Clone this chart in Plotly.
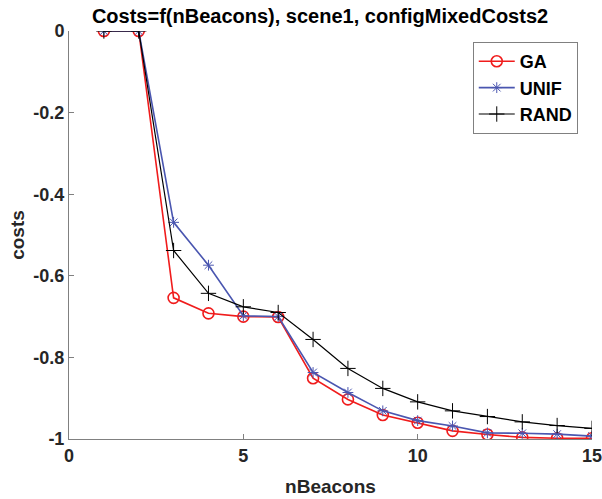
import plotly.graph_objects as go

# valeurs
n_beacons = [1, 2, 3, 4, 5, 6, 7, 8, 9, 10, 11, 12, 13, 14, 15]
costs_ga = [0, 0, -0.654, -0.692, -0.700, -0.701, -0.851, -0.903, -0.941, -0.960, -0.980, -0.989, -0.996, -0.998, -0.998]
costs_unif = [0, 0, -0.469, -0.574, -0.698, -0.700, -0.837, -0.886, -0.931, -0.955, -0.968, -0.985, -0.986, -0.988, -0.993]
costs_rand = [0, 0, -0.538, -0.643, -0.676, -0.690, -0.756, -0.827, -0.876, -0.909, -0.931, -0.945, -0.958, -0.967, -0.974]

x_ticks = [0, 5, 10, 15]
y_ticks = [0, -0.2, -0.4, -0.6, -0.8, -1]
y_tick_labels = ["0", "-0.2", "-0.4", "-0.6", "-0.8", "-1"]

font = dict(family="Arial, Liberation Sans, sans-serif", color="#262626", size=18, weight="bold")

fig = go.Figure()
fig.add_trace(go.Scatter(x=n_beacons, y=costs_ga, name="GA", mode="lines+markers",
                         line=dict(color="#f01c1c", width=1.6),
                         marker=dict(symbol="circle-open", size=11, color="#f01c1c", line=dict(width=1.6))))
fig.add_trace(go.Scatter(x=n_beacons, y=costs_unif, name="UNIF", mode="lines+markers",
                         line=dict(color="#4a56b0", width=1.6),
                         marker=dict(symbol="asterisk-open", size=9, color="#4a56b0", line=dict(width=1))))
fig.add_trace(go.Scatter(x=n_beacons, y=costs_rand, name="RAND", mode="lines+markers",
                         line=dict(color="black", width=1.2),
                         marker=dict(symbol="cross-thin-open", size=11, color="black", line=dict(width=1))))

fig.update_layout(
    width=602, height=499,
    margin=dict(l=69, r=10, t=31, b=60, autoexpand=False),
    plot_bgcolor="white", paper_bgcolor="white",
    font=font,
    title=dict(text="Costs=f(nBeacons), scene1, configMixedCosts2", x=0.48, xref="paper",
               xanchor="center", y=1 - 16 / 499, yref="container", yanchor="middle",
               font=dict(size=20, color="black", weight="bold")),
    xaxis=dict(range=[0, 15], tickvals=x_ticks, ticks="inside", ticklen=5, tickcolor="#808080",
               showgrid=False, zeroline=False, showline=True, linecolor="#808080", linewidth=1,
               automargin=False, ticklabeloverflow="allow",
               title=dict(text="nBeacons", font=dict(size=19, color="#262626"), standoff=15),
               tickfont=dict(size=18, color="#262626")),
    yaxis=dict(range=[-1, 0], tickvals=y_ticks, ticktext=y_tick_labels, ticks="inside", ticklen=5,
               tickcolor="#808080", showgrid=False, zeroline=False, showline=True,
               linecolor="#808080", linewidth=1, automargin=False, ticklabeloverflow="allow",
               title=dict(text="costs", font=dict(size=19, color="#262626"), standoff=3),
               tickfont=dict(size=18, color="#262626")),
    legend=dict(x=0.772, y=0.973, xanchor="left", yanchor="top", bgcolor="white",
                bordercolor="#808080", borderwidth=1, font=dict(size=18, color="black"),
                itemwidth=36, tracegroupgap=0),
    showlegend=True,
)

# la page html a une marge de 8px par defaut
fig.write_html("out.html", config={"displayModeBar": False},
               post_script="document.body.style.margin='0';")
